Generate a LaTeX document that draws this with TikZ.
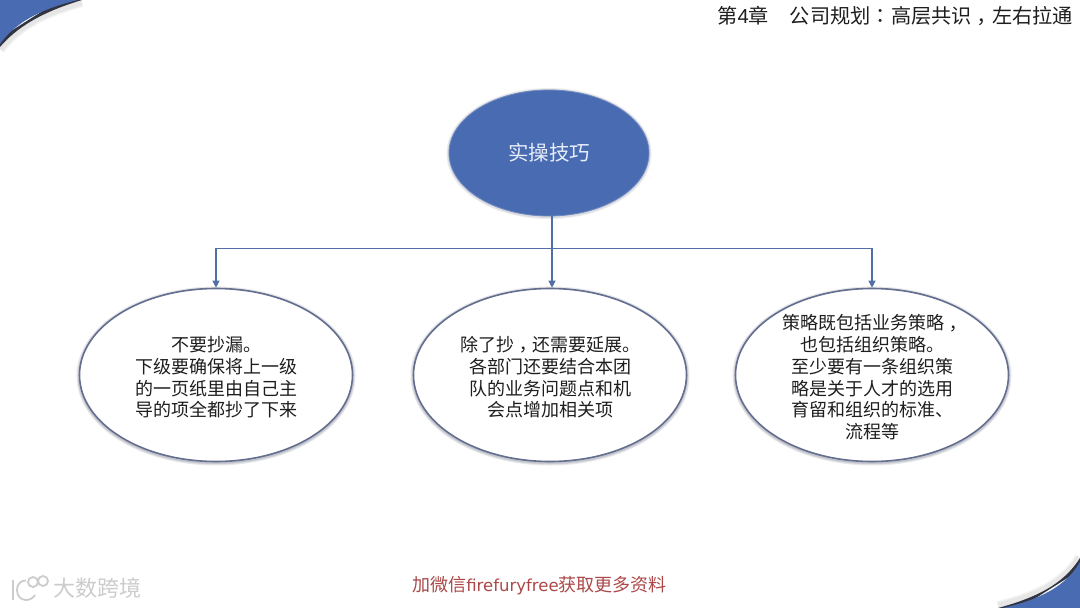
\documentclass[tikz,border=0pt]{standalone}
\usepackage{fontspec}
\setmainfont{Noto Sans CJK SC}
\newfontfamily\latinf{Liberation Sans}
\newfontfamily\widef{DejaVu Sans}
\newfontfamily\tcpunct{Noto Sans CJK TC}
\newcommand{\lowcomma}{\raisebox{-.3em}{\tcpunct ，}}
\newcommand{\midcolon}{{\tcpunct ：}}
\usetikzlibrary{arrows.meta,calc,shapes.geometric}
\definecolor{slideblue}{RGB}{72,107,178}
\definecolor{linkblue}{RGB}{80,112,165}
\definecolor{rimgrey}{RGB}{100,110,142}
\definecolor{shadowgrey}{RGB}{70,75,100}
\definecolor{cornerdark}{RGB}{50,52,65}
\definecolor{footred}{RGB}{172,72,72}
\definecolor{softblack}{RGB}{30,30,30}
\definecolor{softwhite}{RGB}{232,238,248}
\tikzset{
  x=1pt,y=-1pt,
  topoval/.style={ellipse,draw=slideblue!80!white,line width=.8pt,fill=slideblue,text=softwhite,font=\fontsize{20.5}{24}\selectfont,minimum width=200pt,minimum height=126pt,inner sep=0pt},
  softoval/.style={ellipse,draw=rimgrey,line width=1.6pt,fill=white,text=softblack,align=center,font=\fontsize{18}{21.8}\selectfont,minimum width=273pt,minimum height=173pt,inner xsep=-10pt,inner ysep=-28pt,text width=200pt},
  halo/.style={ellipse,draw=shadowgrey,draw opacity=.12,line width=#1,minimum width=273pt,minimum height=173pt,inner sep=0pt},
  tophalo/.style={ellipse,draw=shadowgrey,draw opacity=.10,line width=#1,minimum width=200pt,minimum height=126pt,inner sep=0pt},
  link/.style={draw=linkblue,line width=1.1pt},
  linkarrow/.style={link,-{Triangle[length=7pt,width=7pt,fill=linkblue]}},
  corner/.style={fill=slideblue},
  cornerrim/.style={fill=cornerdark},
  cornerhalo/.style={draw=gray,draw opacity=.10,line width=#1},
  wmstroke/.style={draw=black!20,line width=1.8pt},
  wmring/.style={circle,wmstroke,inner sep=0pt,minimum size=10pt},
}
\begin{document}
\begin{tikzpicture}
\useasboundingbox (0,0) rectangle (1080,608);
\fill[white] (0,0) rectangle (1080,608);
% corners
\foreach \w in {8pt,5pt}{\draw[cornerhalo=\w] (82,3) .. controls (42,14) and (17,28) .. (1,50);}
\fill[cornerrim] (0,47) .. controls (17,27) and (42,12) .. (82,0) -- (60,0) -- (0,38) -- cycle;
\fill[corner] (0,0) -- (78,0) .. controls (40,9) and (15,23) .. (0,44) -- cycle;
\foreach \w in {8pt,5pt}{\draw[cornerhalo=\w] (998,605) .. controls (1035,596) and (1063,583) .. (1079,557);}
\fill[cornerrim] (998,608) .. controls (1035,598) and (1063,585) .. (1080,558) -- (1080,570) -- (1020,608) -- cycle;
\fill[corner] (1080,608) -- (1003,608) .. controls (1037,600) and (1065,588) .. (1080,562) -- cycle;
% header & footer
\node[anchor=east,inner sep=0pt,text=softblack,font=\fontsize{20.2}{24}\selectfont] (hdr) at (1073,18) {第{\latinf 4}章\hspace{21pt}公司规划\midcolon 高层共识\lowcomma 左右拉通};
\node[inner sep=0pt,text=footred,font=\fontsize{18}{22}\selectfont] (foot) at (539.5,586) {加微信{\widef\fontsize{16.5}{22}\selectfont firefuryfree}获取更多资料};
% watermark
\node[inner sep=0pt,text=black!20,font=\fontsize{22}{26}\selectfont] (wm) at (97,588) {大数跨境};
\draw[wmstroke] (13,580) -- (13,600);
\draw[wmstroke] (26,580.5) .. controls (14,580) and (14,600) .. (26,600) .. controls (30,600) and (33,598) .. (35,595);
\node[wmring] (wmlogoc) at (33,582) {};
\node[wmring] (wmlogod) at (43,581) {};
% halos
\foreach \c in {(216,376),(550,376),(872,376)}{
  \foreach \w in {6pt,4pt,2.5pt}{\node[halo=\w] at \c {};}
}
\foreach \w in {5pt,3pt}{\node[tophalo=\w] at (549,153.5) {};}
% nodes
\node[topoval] (top) at (549,153) {实操技巧};
\node[softoval] (a) at (216,375) {\rule{0pt}{20pt}不要抄漏。\\下级要确保将上一级\\的一页纸里由自己主\\导的项全都抄了下来};
\node[softoval] (b) at (550,375) {\rule{0pt}{20pt}除了抄\lowcomma 还需要延展。\\各部门还要结合本团\\队的业务问题点和机\\会点增加相关项};
\node[softoval] (c) at (872,375) {\rule{0pt}{20pt}策略既包括业务策略\lowcomma \\也包括组织策略。\\至少要有一条组织策\\略是关于人才的选用\\育留和组织的标准、\\流程等};
% connectors
\coordinate (start) at ($(top.south)+(3,0)$);
\coordinate (hub) at ($(start)+(0,32)$);
\coordinate (bin) at ($(b.north)+(2,0)$);
\draw[link] (start) -- (hub);
\draw[linkarrow] (hub) -| (a.north);
\draw[linkarrow] (hub) -- (bin);
\draw[linkarrow] (hub) -| (c.north);
\end{tikzpicture}
\end{document}
